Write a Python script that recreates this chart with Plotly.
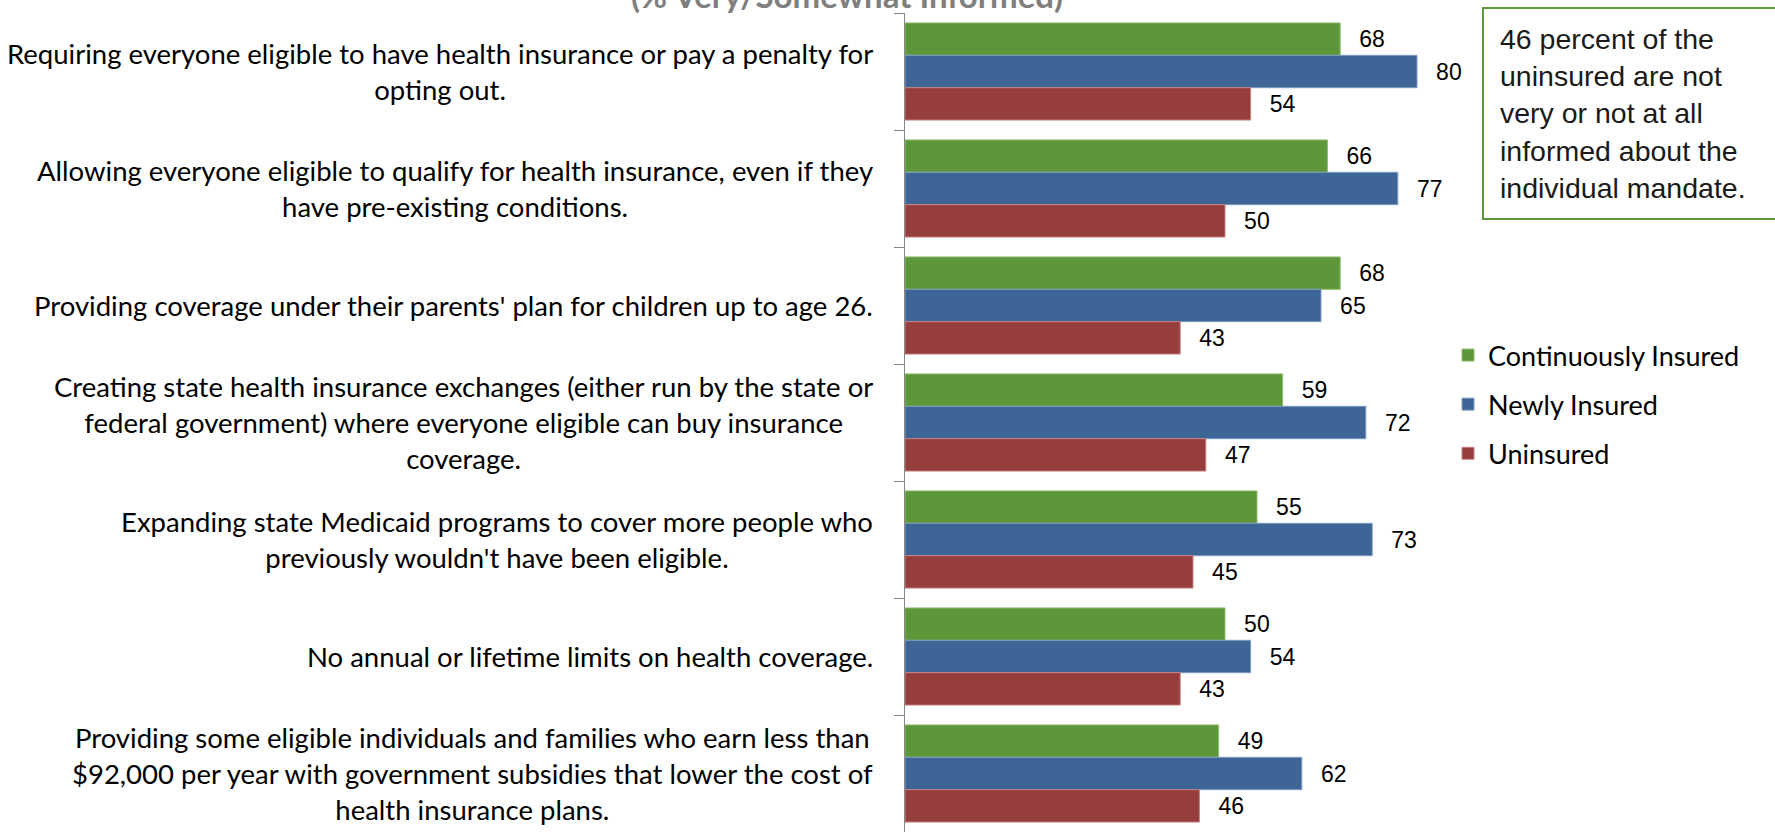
import plotly.graph_objects as go

# Survey items (top to bottom) and the share who feel very/somewhat informed
categories = [
    "Requiring everyone eligible to have health insurance or pay a penalty for<br>opting out.",
    "Allowing everyone eligible to qualify for health insurance, even if they<br>have pre-existing conditions.",
    "Providing coverage under their parents' plan for children up to age 26.",
    "Creating state health insurance exchanges (either run by the state or<br>federal government) where everyone eligible can buy insurance<br>coverage.",
    "Expanding state Medicaid programs to cover more people who<br>previously wouldn't have been eligible.",
    "No annual or lifetime limits on health coverage.",
    "Providing some eligible individuals and families who earn less than<br>$92,000 per year with government subsidies that lower the cost of<br>health insurance plans.",
]
category_ids = [f"c{i}" for i in range(len(categories))]

continuously_insured = [68, 66, 68, 59, 55, 50, 49]
newly_insured = [80, 77, 65, 72, 73, 54, 62]
uninsured = [54, 50, 43, 47, 45, 43, 46]

series = [
    ("Continuously Insured", continuously_insured, "#5E9739", "#8DBB6E"),
    ("Newly Insured", newly_insured, "#3D6596", "#7F9CC2"),
    ("Uninsured", uninsured, "#963D3D", "#C78080"),
]

title_text = "(% Very/Somewhat Informed)"
callout_text = ("46 percent of the<br>uninsured are not<br>very or not at all<br>"
                "informed about the<br>individual mandate.")

W, H = 1775, 836
M_L, M_R, M_T, M_B = 905, 294, 13, 4
PLOT_W = W - M_L - M_R

fig = go.Figure()
for i, (name, vals, color, edge) in enumerate(series):
    fig.add_trace(go.Bar(
        name=name,
        y=category_ids,
        x=vals,
        orientation="h",
        marker=dict(color=color, line=dict(color=edge, width=1)),
        text=[f"\u2002\u2009{v}" for v in vals],
        textposition="outside",
        textangle=0,
        constraintext="none",
        cliponaxis=False,
        outsidetextfont=dict(family="Liberation Sans, Arial", size=23, color="#000000"),
        legendgroup=f"g{i}",
        hoverinfo="x+name",
    ))

annotations = []
# Category labels, centred line-by-line and right-aligned against the axis
for cid, label in zip(category_ids, categories):
    annotations.append(dict(
        x=0, xref="paper", xanchor="right", xshift=-30,
        y=cid, yref="y", yanchor="middle",
        text=label, align="center", showarrow=False,
        font=dict(family="Lato", size=27.5, color="#000000"),
    ))

# Chart subtitle, partly above the page top
annotations.append(dict(
    x=(847 - M_L) / PLOT_W, xref="paper", xanchor="center",
    y=1, yref="paper", yanchor="bottom", yshift=-4,
    text=f"<b>{title_text}</b>", showarrow=False,
    font=dict(family="Lato", size=33, color="#7F7F7F"),
))

# Callout box
annotations.append(dict(
    x=(1482 - M_L) / PLOT_W, xref="paper", xanchor="left",
    y=1.0073, yref="paper", yanchor="top",
    text=callout_text, align="left", valign="middle", showarrow=False,
    width=300, height=177, borderpad=16, borderwidth=2,
    bordercolor="#5E9739", bgcolor="#FFFFFF",
    font=dict(family="Liberation Sans, Arial", size=28.5, color="#1A1A1A"),
))

fig.update_layout(
    width=W, height=H,
    margin=dict(l=M_L, r=M_R, t=M_T, b=M_B, pad=0, autoexpand=False),
    paper_bgcolor="#FFFFFF", plot_bgcolor="#FFFFFF",
    barmode="group", bargap=0.17, bargroupgap=0,
    showlegend=True,
    legend=dict(
        x=(1466 - 18) / W, xref="container", xanchor="left",
        y=(H - 331) / H, yref="container", yanchor="top",
        traceorder="grouped", tracegroupgap=11,
        font=dict(family="Lato", size=27, color="#000000"),
        itemwidth=30, bgcolor="rgba(0,0,0,0)",
    ),
    xaxis=dict(
        range=[0, 90], visible=False, fixedrange=True,
    ),
    yaxis=dict(
        type="category", categoryorder="array", categoryarray=category_ids,
        autorange="reversed",
        showticklabels=False, showgrid=False, zeroline=False,
        showline=True, linecolor="#868686", linewidth=1,
        ticks="outside", tickson="boundaries", ticklen=10,
        tickcolor="#868686", tickwidth=1,
    ),
    annotations=annotations,
)

fig.write_html("out.html")
